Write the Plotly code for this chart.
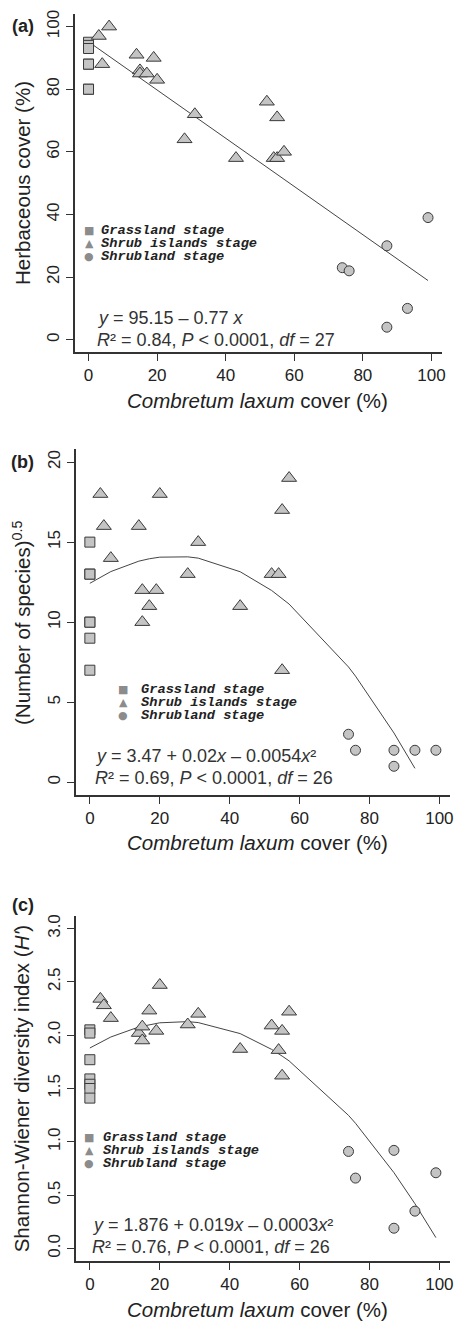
import plotly.graph_objects as go

# ---- panel (a): herbaceous cover ----
a_grass_x = [0, 0, 0, 0, 0, 0, 0]
a_grass_y = [95, 94, 93, 88, 88, 80, 80]
a_shrub_x = [3, 4, 6, 14, 15, 15, 17, 19, 20, 28, 31, 43, 52, 54, 55, 55, 57]
a_shrub_y = [97, 88, 100, 91, 86, 85, 85, 90, 83, 64, 72, 58, 76, 58, 58, 71, 60]
a_land_x = [74, 76, 87, 87, 93, 99]
a_land_y = [23, 22, 30, 4, 10, 39]
a_fit_x = [0, 99]
a_fit_y = [95.15, 18.9]

# ---- panel (b): number of species ----
b_grass_x = [0, 0, 0, 0, 0, 0, 0]
b_grass_y = [15, 13, 13, 10, 10, 9, 7]
b_shrub_x = [3, 4, 6, 14, 15, 15, 17, 19, 20, 28, 31, 43, 52, 54, 55, 55, 57]
b_shrub_y = [18, 16, 14, 16, 12, 10, 11, 12, 18, 13, 15, 11, 13, 13, 17, 7, 19]
b_land_x = [74, 76, 87, 87, 93, 99]
b_land_y = [3, 2, 2, 1, 2, 2]
b_fit_x = [0, 3, 6, 14, 17, 20, 28, 31, 43, 52, 55, 57, 74, 76, 87, 93]
b_fit_y = [12.43, 12.82, 13.16, 13.81, 13.96, 14.06, 14.08, 14.0, 13.15, 11.98,
           11.49, 11.13, 7.2, 6.63, 3.08, 0.87]

# ---- panel (c): Shannon-Wiener index ----
c_grass_x = [0, 0, 0, 0, 0, 0, 0]
c_grass_y = [2.05, 2.02, 1.77, 1.59, 1.54, 1.50, 1.41]
c_shrub_x = [3, 4, 6, 14, 15, 15, 17, 19, 20, 28, 31, 43, 52, 54, 55, 55, 57]
c_shrub_y = [2.34, 2.28, 2.16, 2.02, 2.08, 1.95, 2.23, 2.04, 2.47, 2.10, 2.20,
             1.87, 2.09, 1.86, 2.04, 1.62, 2.22]
c_land_x = [74, 76, 87, 87, 93, 99]
c_land_y = [0.91, 0.66, 0.92, 0.19, 0.35, 0.71]
c_fit_x = [0, 3, 6, 14, 17, 20, 28, 31, 43, 52, 55, 57, 74, 76, 87, 93, 99]
c_fit_y = [1.88, 1.935, 1.983, 2.077, 2.1, 2.116, 2.127, 2.118, 2.015, 1.867,
           1.804, 1.759, 1.248, 1.174, 0.711, 0.42, 0.102]

stage_names = ["Grassland stage", "Shrub islands stage", "Shrubland stage"]
panel_labels = ["(a)", "(b)", "(c)"]
y_titles = ["Herbaceous cover (%)",
            "(Number of species)<sup>0.5</sup>",
            "Shannon-Wiener diversity index (<i>H'</i>)"]
eq_lines = [
    ["<i>y</i> = 95.15 – 0.77 <i>x</i>",
     "<i>R</i>² = 0.84, <i>P</i> &lt; 0.0001, <i>df</i> = 27"],
    ["<i>y</i> = 3.47 + 0.02<i>x</i> – 0.0054<i>x</i>²",
     "<i>R</i>² = 0.69, <i>P</i> &lt; 0.0001, <i>df</i> = 26"],
    ["<i>y</i> = 1.876 + 0.019<i>x</i> – 0.0003<i>x</i>²",
     "<i>R</i>² = 0.76, <i>P</i> &lt; 0.0001, <i>df</i> = 26"],
]

W, H = 458, 1321


def px(x):
    return x / W


def py(y):
    return 1 - y / H


FILL = "#c4c4c4"
EDGE = "#3a3a3a"
TXT = "#222222"
FONT = "Liberation Sans, Arial, sans-serif"

fig = go.Figure()

panels = [
    (a_grass_x, a_grass_y, a_shrub_x, a_shrub_y, a_land_x, a_land_y, a_fit_x, a_fit_y),
    (b_grass_x, b_grass_y, b_shrub_x, b_shrub_y, b_land_x, b_land_y, b_fit_x, b_fit_y),
    (c_grass_x, c_grass_y, c_shrub_x, c_shrub_y, c_land_x, c_land_y, c_fit_x, c_fit_y),
]

# pixel boxes (left, top, right, bottom) of each plot area
boxes = [(75.6, 10.1, 445.5, 349.3), (76.7, 446.6, 453.7, 793.5), (76.7, 914.5, 453.7, 1261.1)]
y_ranges = [[-4, 104], [-0.8, 20.8], [-0.12, 3.12]]
y_ticks = [[0, 20, 40, 60, 80, 100], [0, 5, 10, 15, 20], [0, 0.5, 1, 1.5, 2, 2.5, 3]]
y_fmt = ["", "", ".1f"]
label_pos = [22, 459, 904]
legend_pos = [(90, 100, [227.3, 240, 253.3]), (124.3, 140, [687.3, 700.7, 714]),
              (90, 101.7, [1136.7, 1150, 1163.3])]
eq_pos = [(96, [315, 336.7]), (94.3, [754.3, 776]), (90.7, [1225, 1246.7])]


def note(x, y, text, size, family=FONT, color=TXT, xanchor="center", angle=0):
    fig.add_annotation(x=px(x), y=py(y), xref="paper", yref="paper", text=text,
                       xanchor=xanchor, yanchor="middle", showarrow=False, textangle=angle,
                       font=dict(family=family, size=size, color=color))


for i, (gx, gy, sx, sy, lx, ly, fx, fy) in enumerate(panels):
    n = "" if i == 0 else str(i + 1)
    xa, ya = "x" + n, "y" + n
    fig.add_trace(go.Scatter(x=fx, y=fy, mode="lines", xaxis=xa, yaxis=ya,
                             line=dict(color="#444444", width=1), showlegend=False))
    fig.add_trace(go.Scatter(x=gx, y=gy, mode="markers", xaxis=xa, yaxis=ya, showlegend=False,
                             marker=dict(symbol="square", size=10, color=FILL,
                                         line=dict(color=EDGE, width=1))))
    fig.add_trace(go.Scatter(x=sx, y=sy, mode="markers", xaxis=xa, yaxis=ya, showlegend=False,
                             marker=dict(symbol="triangle-up", size=13, color=FILL,
                                         line=dict(color=EDGE, width=1))))
    fig.add_trace(go.Scatter(x=lx, y=ly, mode="markers", xaxis=xa, yaxis=ya, showlegend=False,
                             marker=dict(symbol="circle", size=10, color=FILL,
                                         line=dict(color=EDGE, width=1))))

    l, t, r, b = boxes[i]
    axis_common = dict(showline=True, linecolor="#333333", linewidth=1.5, ticks="outside",
                       ticklen=7, tickwidth=1, tickcolor="#333333", showgrid=False,
                       zeroline=False, tickfont=dict(family=FONT, size=17, color=TXT))
    fig.update_layout(**{
        "xaxis" + n: dict(domain=[px(l), px(r)], range=[-3.96, 102.96], anchor=ya,
                          tickvals=[0, 20, 40, 60, 80, 100], **axis_common),
        "yaxis" + n: dict(domain=[py(b), py(t)], range=y_ranges[i], anchor=xa,
                          tickvals=y_ticks[i], tickformat=y_fmt[i], tickangle=-90,
                          **axis_common),
    })

    # axis titles
    note(260, b + 48, "<i>Combretum laxum</i> cover (%)", 20.5)
    note(22, (t + b) / 2, y_titles[i], 20.5, angle=-90)
    # panel label
    note(23, label_pos[i], "<b>" + panel_labels[i] + "</b>", 18)
    # legend
    mx, tx, ys = legend_pos[i]
    for sym, name, yy in zip(["■", "▲", "●"], stage_names, ys):
        note(mx, yy, sym, 11, family="DejaVu Sans", color="#8c8c8c")
        note(tx, yy, "<b><i>" + name + "</i></b>", 13.7,
             family="Liberation Mono, Courier New, monospace", xanchor="left")
    # equation
    ex, eys = eq_pos[i]
    for line, yy in zip(eq_lines[i], eys):
        note(ex, yy, line, 18, color="#333333", xanchor="left")

fig.update_layout(width=W, height=H, margin=dict(l=0, r=0, t=0, b=0),
                  paper_bgcolor="white", plot_bgcolor="white", showlegend=False)

# the page body has a default 8px margin; drop it so the figure fills the window
fig.write_html("out.html", config={"displayModeBar": False},
               post_script="document.body.style.margin='0';document.body.style.overflow='hidden';")
